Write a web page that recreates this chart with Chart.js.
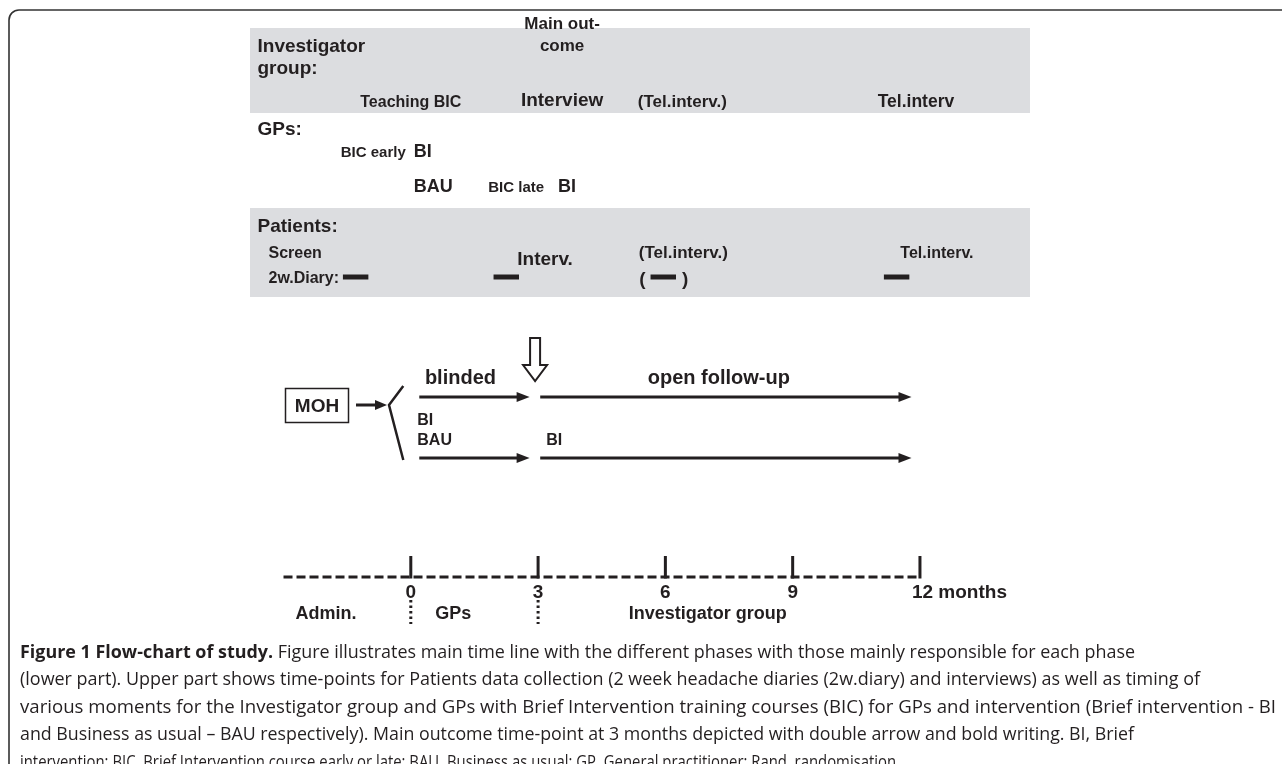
<!DOCTYPE html>
<html><head><meta charset="utf-8">
<script src="https://cdn.jsdelivr.net/npm/chart.js@4.4.1/dist/chart.umd.min.js"></script>
<style>html,body{margin:0;padding:0;background:#fff;overflow:hidden}#c{display:block}</style>
</head><body><canvas id="c" width="1282" height="764"></canvas>
<script>
// ================= DATA =================
const timePoints = [0, 3, 6, 9, 12];                      // months on the main time line
const timeTickLabels = ['0', '3', '6', '9', '12 months'];
const adminStart = -3;                                     // start of administration phase (months)
const phaseLabels = ['Admin.', 'GPs', 'Investigator group'];
const phaseLabelMonths = [-2, 1, 7];
const phaseDividers = [0, 3];
const mainOutcomeMonth = 3;

const investigatorEvents = ['Teaching BIC', 'Interview', '(Tel.interv.)', 'Tel.interv'];
const investigatorMonths = [0, 3, 6, 12];

const gpEarlyLabels = ['BIC early', 'BI'];
const gpLateLabels = ['BAU', 'BIC late', 'BI'];
const gpBicMonths = [0, 3];

const patientEvents = ['Interv.', '(Tel.interv.)', 'Tel.interv.'];
const patientMonths = [3, 6, 12];
const diaryMonths = [-1.3, 2.25, 5.95, 11.45];
const diaryOptional = [false, false, true, false];
const diaryLength = 0.6;

const blindedPhase = [0.2, 2.8];
const openPhase = [3.05, 11.8];
const armLabels = ['BI', 'BAU'];

const captionBold = 'Figure 1 Flow-chart of study.';
const captionLines = [
  ' Figure illustrates main time line with the different phases with those mainly responsible for each phase',
  '(lower part). Upper part shows time-points for Patients data collection (2 week headache diaries (2w.diary) and interviews) as well as timing of',
  'various moments for the Investigator group and GPs with Brief Intervention training courses (BIC) for GPs and intervention (Brief intervention - BI',
  'and Business as usual \u2013 BAU respectively). Main outcome time-point at 3 months depicted with double arrow and bold writing. BI, Brief',
  'intervention; BIC, Brief Intervention course early or late; BAU, Business as usual; GP, General practitioner; Rand, randomisation.'
];

// ================= LAYOUT / STYLE =================
const PX0 = 410.8, PXM = 42.43;            // pixel of month 0, pixels per month
const INK = '#231f20', GREY = '#dcdde0';
const FONT = '"Liberation Sans", Arial, Helvetica, sans-serif';
const ROW = {arrowTop: 397, arrowBot: 458, timeline: 577, tickTop: 556, diary: 277};
const CAPTION_WIDTHS = [1115, 1180, 1256, 1114, 880];

function seg(x0, x1, y) { return [{x: x0, y: y}, {x: x1, y: y}]; }
function lineDs(data, extra) {
  return Object.assign({type: 'line', data: data, borderColor: INK, backgroundColor: INK,
    borderWidth: 3, pointRadius: 0, showLine: true, fill: false, tension: 0, borderCapStyle: 'butt'}, extra || {});
}

const datasets = [];
datasets.push(lineDs(seg(adminStart, timePoints[timePoints.length - 1], ROW.timeline), {borderDash: [9, 4], borderWidth: 3}));
timePoints.forEach(m => datasets.push(lineDs([{x: m, y: ROW.tickTop}, {x: m, y: ROW.timeline + 1.5}], {borderWidth: 3})));
[ROW.arrowTop, ROW.arrowBot].forEach(y => {
  datasets.push(lineDs(seg(blindedPhase[0], blindedPhase[1] - 0.2, y)));
  datasets.push(lineDs(seg(openPhase[0], openPhase[1] - 0.2, y)));
});
diaryMonths.forEach(m => datasets.push(lineDs(seg(m - diaryLength / 2, m + diaryLength / 2, ROW.diary), {borderWidth: 5})));
phaseDividers.forEach(m => datasets.push(lineDs([{x: m, y: 600}, {x: m, y: 624}], {borderDash: [2.5, 3], borderWidth: 3})));

const deco = {
  id: 'deco',
  beforeDatasetsDraw(chart) {
    const c = chart.ctx;
    c.save();
    c.strokeStyle = '#333'; c.lineWidth = 1.6;
    c.beginPath(); c.moveTo(9, 764); c.lineTo(9, 20); c.arcTo(9, 10, 19, 10, 10); c.lineTo(1282, 10); c.stroke();
    c.fillStyle = GREY;
    c.fillRect(250, 28, 780, 85);
    c.fillRect(250, 208, 780, 89);
    c.restore();
  },
  afterDatasetsDraw(chart) {
    const c = chart.ctx, X = v => chart.scales.x.getPixelForValue(v);
    c.save();
    c.fillStyle = INK; c.strokeStyle = INK; c.textBaseline = 'alphabetic';
    const T = (txt, x, y, size, align, bold) => {
      c.font = (bold === false ? '' : 'bold ') + size + 'px ' + FONT;
      c.textAlign = align || 'left';
      c.fillText(txt, x, y);
    };
    const left = X(adminStart) - 26;
    // ---- Investigator group panel ----
    T('Investigator', left, 52, 19);
    T('group:', left, 74, 19);
    T(investigatorEvents[0], X(investigatorMonths[0]), 107, 16, 'center');
    T('Main out-', X(investigatorMonths[1]) + 24, 29, 17, 'center');
    T('come', X(investigatorMonths[1]) + 24, 51, 17, 'center');
    T(investigatorEvents[1], X(investigatorMonths[1]) + 24, 106, 19, 'center');
    T(investigatorEvents[2], X(investigatorMonths[2]) + 17, 107, 17, 'center');
    T(investigatorEvents[3], X(investigatorMonths[3]) - 4, 107, 17.5, 'center');
    // ---- GPs ----
    T('GPs:', left, 135, 19);
    T(gpEarlyLabels[0], X(gpBicMonths[0]) - 5, 157, 15, 'right');
    T(gpEarlyLabels[1], X(gpBicMonths[0]) + 3, 157, 18);
    T(gpLateLabels[0], X(gpBicMonths[0]) + 3, 192, 18);
    T(gpLateLabels[1], X(gpBicMonths[1]) + 6, 192, 15, 'right');
    T(gpLateLabels[2], X(gpBicMonths[1]) + 20, 192, 18);
    // ---- Patients ----
    T('Patients:', left, 232, 19);
    T('Screen', left + 11, 258, 16);
    T('2w.Diary:', left + 11, 283, 16);
    T(patientEvents[0], X(patientMonths[0]) + 7, 265, 19, 'center');
    T(patientEvents[1], X(patientMonths[1]) + 18, 258, 17, 'center');
    T(patientEvents[2], X(patientMonths[2]) + 17, 258, 16, 'center');
    diaryMonths.forEach((m, i) => {
      if (!diaryOptional[i]) return;
      T('(', X(m - diaryLength / 2) - 5, 285, 19, 'right');
      T(')', X(m + diaryLength / 2) + 6, 285, 19, 'left');
    });
    // ---- main outcome hollow arrow ----
    const ax = X(mainOutcomeMonth) - 3;
    c.fillStyle = '#fff'; c.lineWidth = 2;
    c.beginPath();
    c.moveTo(ax - 5, 338); c.lineTo(ax + 5, 338); c.lineTo(ax + 5, 365); c.lineTo(ax + 12, 365);
    c.lineTo(ax, 381); c.lineTo(ax - 12, 365); c.lineTo(ax - 5, 365); c.closePath();
    c.fill(); c.stroke();
    c.fillStyle = INK;
    T('blinded', (X(blindedPhase[0]) + X(blindedPhase[1])) / 2 - 14, 384, 20, 'center');
    T('open follow-up', (X(openPhase[0]) + X(openPhase[1])) / 2 - 7, 384, 20, 'center');
    const head = (x, y, L, W) => { c.beginPath(); c.moveTo(x, y); c.lineTo(x - L, y - W); c.lineTo(x - L, y + W); c.closePath(); c.fill(); };
    [ROW.arrowTop, ROW.arrowBot].forEach(y => { head(X(blindedPhase[1]), y, 13, 5); head(X(openPhase[1]), y, 13, 5); });
    T(armLabels[0], X(blindedPhase[0]) - 2, 425, 16);
    T(armLabels[1], X(blindedPhase[0]) - 2, 445, 16);
    T(armLabels[0], X(openPhase[0]) + 6, 445, 16);
    // MOH box, arrow and split
    c.lineWidth = 1.5;
    c.strokeRect(285.5, 388.5, 63, 34);
    T('MOH', 317, 412, 19, 'center');
    c.lineWidth = 3;
    c.beginPath(); c.moveTo(356, 405); c.lineTo(376, 405); c.stroke();
    head(387, 405, 12, 5);
    c.lineWidth = 2.5;
    c.beginPath(); c.moveTo(X(blindedPhase[0]) - 16, 386); c.lineTo(389, 405); c.lineTo(X(blindedPhase[0]) - 16, 460); c.stroke();
    // time line labels
    timePoints.forEach((m, i) => {
      if (i === timePoints.length - 1) T(timeTickLabels[i], X(m) - 8, 598, 19, 'left');
      else T(timeTickLabels[i], X(m), 598, 19, 'center');
    });
    phaseLabels.forEach((p, i) => T(p, X(phaseLabelMonths[i]), 619, 18, 'center'));
    // caption (each line fitted to its width in the original)
    const cf = '"Open Sans", "Noto Sans", sans-serif';
    const size = 18.5;
    const reg = size + 'px ' + cf, bold = 'bold ' + size + 'px ' + cf;
    c.textAlign = 'left'; c.fillStyle = INK;
    captionLines.forEach((line, i) => {
      let bw = 0;
      if (i === 0) { c.font = bold; bw = c.measureText(captionBold).width; }
      c.font = reg;
      const w = bw + c.measureText(line).width;
      const sx = CAPTION_WIDTHS[i] / w;
      const y = 658 + 27.4 * i;
      c.save();
      c.translate(20, y); c.scale(sx, 1);
      if (i === 0) { c.font = bold; c.fillText(captionBold, 0, 0); c.font = reg; }
      c.fillText(line, bw, 0);
      c.restore();
    });
    c.restore();
  }
};

new Chart(document.getElementById('c'), {
  type: 'scatter',
  data: {datasets: datasets},
  options: {
    responsive: false, animation: false, devicePixelRatio: 1,
    layout: {padding: 0},
    plugins: {legend: {display: false}, tooltip: {enabled: false}},
    scales: {
      x: {type: 'linear', display: false, min: -PX0 / PXM, max: (1282 - PX0) / PXM},
      y: {type: 'linear', display: false, min: 0, max: 764, reverse: true}
    }
  },
  plugins: [deco]
});
</script></body></html>
